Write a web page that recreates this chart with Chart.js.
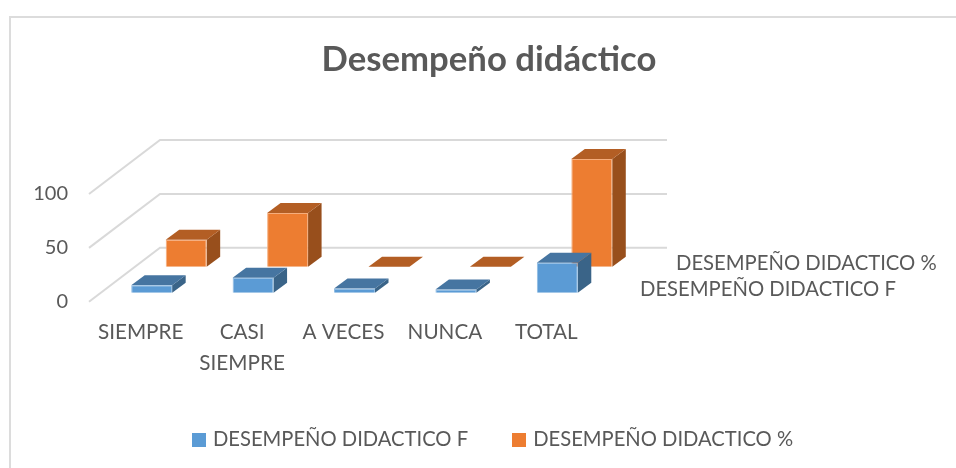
<!DOCTYPE html>
<html lang="es">
<head>
<meta charset="utf-8">
<style>
html,body{margin:0;padding:0;background:#fff;overflow:hidden}
#wrap{position:relative;width:956px;height:468px}
</style>
<script src="https://cdn.jsdelivr.net/npm/chart.js@4"></script>
</head>
<body>
<div id="wrap"><canvas id="c" width="956" height="468"></canvas></div>
<script>
const titleText = 'Desempeño didáctico';
const categories = ['SIEMPRE', ['CASI', 'SIEMPRE'], 'A VECES', 'NUNCA', 'TOTAL'];
const seriesNames = ['DESEMPEÑO DIDACTICO F', 'DESEMPEÑO DIDACTICO %'];
const valuesF = [7, 14, 4, 3, 28];
const valuesPct = [25, 50, 0, 0, 100];
const yTicks = [0, 50, 100];

const textColor = '#595959';
const fontFamily = 'Lato, Carlito, sans-serif';
const styles = [
  {front:'#5B9BD5', top:'#4675A1', side:'#3A6488', edge:'#8DBBE3', dx:11, dy:-9, labelX:640, labelY:289},
  {front:'#ED7D31', top:'#B35E24', side:'#984F1C', edge:'#F5AD7C', dx:45.5, dy:-35, labelX:676, labelY:263}
];
const barDepth = {x:13.5, y:-10};
const wallDepth = {x:70, y:-54};

function legendSwatch(color){
  const cv = document.createElement('canvas');
  cv.width = 14; cv.height = 14;
  const g = cv.getContext('2d');
  g.fillStyle = color;
  g.fillRect(0,0,14,14);
  return cv;
}
const swatches = styles.map(s=>legendSwatch(s.front));

const depth3d = {
  id:'depth3d',
  afterLayout(chart){
    chart.legend.left += 10;
  },
  beforeDraw(chart){
    const {ctx} = chart;
    ctx.save();
    ctx.fillStyle = '#fff';
    ctx.fillRect(0,0,chart.width,chart.height);
    ctx.strokeStyle = '#DCDCDC';
    ctx.lineWidth = 2;
    ctx.beginPath();
    ctx.moveTo(10,468); ctx.lineTo(10,17); ctx.lineTo(956,17);
    ctx.stroke();
    ctx.restore();
  },
  beforeDatasetsDraw(chart){
    const {ctx, scales:{x,y}} = chart;
    ctx.save();
    ctx.strokeStyle = '#D9D9D9';
    ctx.lineWidth = 2;
    y.ticks.forEach((t,i)=>{
      const py = y.getPixelForTick(i);
      ctx.beginPath();
      ctx.moveTo(x.left-1, py);
      ctx.lineTo(x.left+wallDepth.x, py+wallDepth.y);
      ctx.lineTo(x.right+wallDepth.x, py+wallDepth.y);
      ctx.stroke();
    });
    ctx.restore();
    ctx.save();
    ctx.fillStyle = textColor;
    ctx.font = '20.25px '+fontFamily;
    ctx.textBaseline = 'middle';
    ctx.textAlign = 'left';
    styles.forEach((s,i)=>ctx.fillText(chart.data.datasets[i].label, s.labelX, s.labelY));
    ctx.restore();
  },
  beforeDatasetDraw(chart,{index,meta}){
    const {ctx} = chart;
    const s = styles[index];
    ctx.save();
    ctx.translate(s.dx,s.dy);
    meta.data.forEach(el=>{
      const l = el.x-el.width/2, r = el.x+el.width/2, t = el.y, b = el.base;
      const dx = barDepth.x, dy = barDepth.y;
      ctx.fillStyle = s.side;
      ctx.beginPath();
      ctx.moveTo(r,t); ctx.lineTo(r+dx,t+dy); ctx.lineTo(r+dx,b+dy); ctx.lineTo(r,b);
      ctx.closePath(); ctx.fill();
      ctx.fillStyle = s.top;
      ctx.beginPath();
      ctx.moveTo(l,t); ctx.lineTo(l+dx,t+dy); ctx.lineTo(r+dx,t+dy); ctx.lineTo(r,t);
      ctx.closePath(); ctx.fill();
    });
  },
  afterDatasetDraw(chart){
    chart.ctx.restore();
  }
};

new Chart(document.getElementById('c'),{
  type:'bar',
  data:{
    labels:categories,
    datasets:[
      {label:seriesNames[0], data:valuesF, backgroundColor:styles[0].front, borderColor:styles[0].edge, borderWidth:1, clip:false},
      {label:seriesNames[1], data:valuesPct, backgroundColor:styles[1].front, borderColor:styles[1].edge, borderWidth:1, clip:false}
    ]
  },
  options:{
    responsive:false,
    animation:false,
    grouped:false,
    categoryPercentage:1,
    barPercentage:0.404,
    layout:{padding:{left:22,right:0,top:0,bottom:8}},
    plugins:{
      tooltip:{enabled:false},
      title:{
        display:true,text:titleText,color:textColor,
        font:{family:fontFamily,size:34.7,weight:'bold'},
        padding:{top:39,bottom:113.4}
      },
      legend:{
        position:'bottom',
        labels:{
          color:textColor,boxWidth:8,boxHeight:14,padding:47,
          usePointStyle:true,
          generateLabels(chart){
            return Chart.defaults.plugins.legend.labels.generateLabels(chart)
              .map((item,i)=>({...item,pointStyle:swatches[i]}));
          },
          font:{family:fontFamily,size:20.2}
        }
      }
    },
    scales:{
      x:{
        type:'category',
        grid:{display:false,drawTicks:false},
        border:{display:false},
        ticks:{color:textColor,font:{family:fontFamily,size:20.7,lineHeight:1.45},maxRotation:0,minRotation:0,autoSkip:false,padding:16},
        afterFit(s){s.height=81;}
      },
      y:{
        type:'linear',min:0,max:100,
        grid:{display:false,drawTicks:false},
        border:{display:false},
        afterBuildTicks(s){s.ticks = yTicks.map(v=>({value:v}));},
        ticks:{color:textColor,font:{family:fontFamily,size:20},padding:22},
        afterFit(s){s.width=68;}
      },
      spare:{
        type:'linear',position:'right',display:true,
        grid:{display:false,drawTicks:false},
        border:{display:false},
        ticks:{display:false},
        afterFit(s){s.width=359;}
      }
    }
  },
  plugins:[depth3d]
});
</script>
</body>
</html>
